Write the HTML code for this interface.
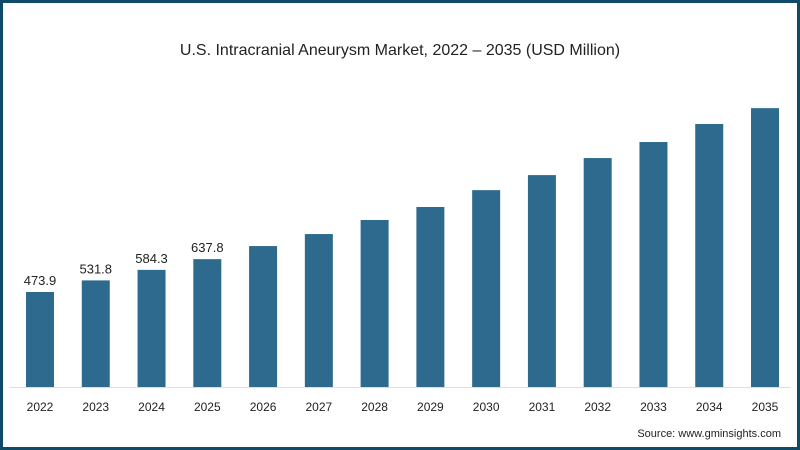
<!DOCTYPE html>
<html><head><meta charset="utf-8"><style>
html,body{margin:0;padding:0;}
body{width:800px;height:450px;overflow:hidden;background:#fff;font-family:"Liberation Sans",sans-serif;}
#frame{position:absolute;left:0;top:0;width:794px;height:444px;border:3px solid #0f4a66;background:#fff;}
</style></head><body>
<div id="frame"></div>
<svg id="chart" width="800" height="450" style="position:absolute;left:0;top:0">
<text x="400" y="55" text-anchor="middle" font-size="16" fill="#222">U.S. Intracranial Aneurysm Market, 2022 – 2035 (USD Million)</text>
<line x1="10" x2="790" y1="387.5" y2="387.5" stroke="#ddd" stroke-width="1"/>
<text x="781" y="437" text-anchor="end" font-size="11" fill="#222">Source: www.gminsights.com</text>
<g id="bars"></g>
</svg>
<script>
const categories=["2022","2023","2024","2025","2026","2027","2028","2029","2030","2031","2032","2033","2034","2035"];
const values=[473.9,531.8,584.3,637.8,703,763,833,898,982,1057,1142,1222,1312,1391];
const labels=["473.9","531.8","584.3","637.8","","","","","","","","","",""];
const ns="http://www.w3.org/2000/svg";
const g=document.getElementById("bars");
const base=387, k=95/473.9, x0=40, step=(765-40)/13, bw=28;
function xS(i){return x0+i*step;}
function yS(v){return base-v*k;}
categories.forEach((c,i)=>{
 const r=document.createElementNS(ns,"rect");
 r.setAttribute("x",xS(i)-bw/2);r.setAttribute("y",yS(values[i]));
 r.setAttribute("width",bw);r.setAttribute("height",base-yS(values[i]));
 r.setAttribute("fill","#2e6a8e");
 
 
 g.appendChild(r);
 const t=document.createElementNS(ns,"text");
 t.setAttribute("x",xS(i));t.setAttribute("y",411);t.setAttribute("text-anchor","middle");
 t.setAttribute("font-size","12");t.setAttribute("fill","#222");t.textContent=c;
 
 
 g.appendChild(t);
 if(labels[i]){
  const l=document.createElementNS(ns,"text");
  l.setAttribute("x",xS(i));l.setAttribute("y",yS(values[i])-7);l.setAttribute("text-anchor","middle");
  l.setAttribute("font-size","13");l.setAttribute("fill","#222");l.textContent=labels[i];
  
  
  g.appendChild(l);
 }
});
</script>
</body></html>
